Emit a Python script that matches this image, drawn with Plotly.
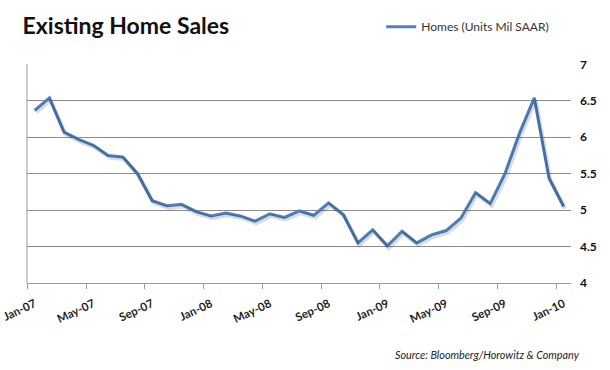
import plotly.graph_objects as go

months = ["Jan-07","Feb-07","Mar-07","Apr-07","May-07","Jun-07","Jul-07","Aug-07","Sep-07","Oct-07","Nov-07","Dec-07",
          "Jan-08","Feb-08","Mar-08","Apr-08","May-08","Jun-08","Jul-08","Aug-08","Sep-08","Oct-08","Nov-08","Dec-08",
          "Jan-09","Feb-09","Mar-09","Apr-09","May-09","Jun-09","Jul-09","Aug-09","Sep-09","Oct-09","Nov-09","Dec-09",
          "Jan-10"]
homes = [6.37, 6.54, 6.07, 5.97, 5.89, 5.75, 5.73, 5.50, 5.13, 5.06, 5.08, 4.98,
         4.92, 4.96, 4.92, 4.85, 4.95, 4.90, 4.99, 4.93, 5.10, 4.94, 4.55, 4.73,
         4.51, 4.71, 4.55, 4.66, 4.72, 4.89, 5.24, 5.09, 5.50, 6.06, 6.54, 5.44,
         5.05]
tick_labels = ["Jan-07","May-07","Sep-07","Jan-08","May-08","Sep-08","Jan-09","May-09","Sep-09","Jan-10"]
y_ticks = [4, 4.5, 5, 5.5, 6, 6.5, 7]

x = list(range(len(months)))
label_pos = [months.index(m) for m in tick_labels]
tick_pos = [p - 0.5 for p in label_pos]

blue = "#4F81BD"
fig = go.Figure()
# soft shadow (same data on slightly shifted axes)
fig.add_trace(go.Scatter(x=x, y=homes, mode="lines", xaxis="x2", yaxis="y2",
                         line=dict(color="rgba(0,0,0,0.14)", width=4), showlegend=False, hoverinfo="skip"))
fig.add_trace(go.Scatter(x=x, y=homes, mode="lines", name="Homes (Units Mil SAAR)",
                         line=dict(color=blue, width=3)))

fig.update_layout(
    width=610, height=370,
    margin=dict(l=27, r=39, t=64, b=87, autoexpand=False),
    paper_bgcolor="white", plot_bgcolor="white",
    font=dict(family="Lato, Carlito, sans-serif", color="#222"),
    showlegend=True,
    legend=dict(xref="container", yref="container", x=0.625, y=0.928, xanchor="left", yanchor="middle",
                orientation="h", itemwidth=30,
                font=dict(size=12, color="#333"), bgcolor="rgba(0,0,0,0)"),
    title=dict(text="<b>Existing Home Sales</b>", x=0.037, xanchor="left", y=0.93, yanchor="middle",
               font=dict(size=23, color="#111")),
    xaxis=dict(range=[-0.52, 36.5], tickmode="array", tickvals=label_pos, ticktext=tick_labels,
               tickangle=-25, ticks="outside", ticklen=5, tickcolor="rgba(0,0,0,0)",
               ticklabeloverflow="allow", ticklabelstandoff=4,
               minor=dict(tickmode="array", tickvals=tick_pos, ticks="outside", ticklen=5,
                          tickcolor="#999", showgrid=False),
               showline=True, linecolor="#999", linewidth=1, showgrid=False, zeroline=False,
               tickfont=dict(size=11.5, color="#222", weight="bold")),
    yaxis=dict(range=[4, 7.005], side="right", tickvals=y_ticks, ticktext=[f"{v:g}" for v in y_ticks],
               showgrid=True, gridcolor="#8c8c8c", gridwidth=1, zeroline=False, showline=False,
               ticks="", ticklabelstandoff=8, tickfont=dict(size=12, color="#111", weight="bold")),
    xaxis2=dict(range=[-0.62, 36.4], overlaying="x", visible=False),
    yaxis2=dict(range=[4.03, 7.035], overlaying="y", visible=False),
    shapes=[dict(type="line", xref="paper", yref="paper", x0=0, x1=0, y0=0, y1=1,
                 line=dict(color="#999", width=1))],
    annotations=[dict(text="<i>Source: Bloomberg/Horowitz & Company</i>", xref="paper", yref="paper",
                      x=1.02, y=-0.325, xanchor="right", yanchor="middle", showarrow=False,
                      font=dict(size=10.8, color="#222"))],
)
fig.write_html("out.html", config={"displayModeBar": False},
               post_script="document.body.style.margin='0px';")
